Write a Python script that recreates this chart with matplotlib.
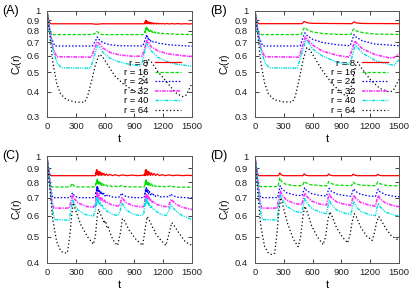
import matplotlib
matplotlib.use("Agg")
import matplotlib.pyplot as plt
from matplotlib.ticker import FixedLocator, FixedFormatter, NullLocator

plt.rcParams["font.family"] = ["Liberation Sans", "DejaVu Sans"]
plt.rcParams["lines.scale_dashes"] = False
plt.rcParams["mathtext.fontset"] = "custom"
plt.rcParams["mathtext.rm"] = "Liberation Sans"
plt.rcParams["mathtext.it"] = "Liberation Sans:italic"

# ── data (t, C_t(r)) ───────────────────────────────────────────────────────

RADII = [8, 16, 24, 32, 40, 64]
X_TICKS = [0, 300, 600, 900, 1200, 1500]

A8 = [(0, 1.0), (10, 0.93), (25, 0.88), (40, 0.865), (470, 0.865), (490, 0.861), (530, 0.861),
      (560, 0.865), (1005, 0.865), (1010, 0.875), (1014, 0.864), (1018, 0.895), (1022, 0.868),
      (1026, 0.9), (1030, 0.87), (1034, 0.89), (1038, 0.866), (1043, 0.885), (1048, 0.867),
      (1053, 0.881), (1058, 0.864), (1064, 0.878), (1070, 0.865), (1076, 0.876), (1083, 0.863),
      (1090, 0.874), (1098, 0.864), (1106, 0.872), (1115, 0.863), (1125, 0.871), (1135, 0.863),
      (1146, 0.87), (1158, 0.863), (1170, 0.869), (1185, 0.863), (1200, 0.868), (1220, 0.863),
      (1240, 0.868), (1265, 0.863), (1290, 0.867), (1320, 0.863), (1350, 0.867), (1390, 0.863),
      (1430, 0.866), (1470, 0.863), (1500, 0.865)]
A16 = [(0, 1.0), (15, 0.9), (30, 0.8), (50, 0.765), (470, 0.765), (500, 0.778), (515, 0.792),
       (528, 0.786), (545, 0.768), (580, 0.765), (995, 0.765), (1005, 0.775), (1012, 0.795),
       (1016, 0.785), (1020, 0.818), (1024, 0.802), (1028, 0.832), (1032, 0.807), (1036, 0.824),
       (1040, 0.802), (1045, 0.816), (1050, 0.797), (1055, 0.81), (1061, 0.792), (1067, 0.804),
       (1074, 0.787), (1081, 0.798), (1089, 0.784), (1097, 0.793), (1106, 0.78), (1116, 0.789),
       (1127, 0.777), (1139, 0.785), (1152, 0.774), (1166, 0.781), (1182, 0.772), (1200, 0.777),
       (1220, 0.77), (1245, 0.775), (1270, 0.768), (1300, 0.772), (1340, 0.766), (1380, 0.769),
       (1430, 0.765), (1470, 0.767), (1500, 0.765)]
A24 = [(0, 1.0), (20, 0.86), (45, 0.74), (80, 0.672), (470, 0.672), (500, 0.71), (520, 0.745),
       (540, 0.722), (580, 0.697), (650, 0.682), (750, 0.674), (990, 0.672), (1010, 0.71),
       (1022, 0.74), (1028, 0.757), (1033, 0.737), (1038, 0.75), (1044, 0.728), (1050, 0.74),
       (1057, 0.72), (1065, 0.728), (1075, 0.71), (1086, 0.716), (1100, 0.702), (1120, 0.705),
       (1150, 0.693), (1200, 0.689), (1250, 0.682), (1350, 0.677), (1500, 0.67)]
A32 = [(0, 1.0), (25, 0.82), (60, 0.66), (100, 0.595), (460, 0.592), (490, 0.65), (520, 0.705),
       (540, 0.69), (580, 0.655), (650, 0.625), (750, 0.607), (900, 0.597), (985, 0.6),
       (1010, 0.65), (1030, 0.715), (1040, 0.7), (1048, 0.705), (1060, 0.685), (1080, 0.665),
       (1150, 0.635), (1250, 0.615), (1400, 0.602), (1500, 0.597)]
A40 = [(0, 1.0), (30, 0.78), (70, 0.62), (110, 0.55), (150, 0.525), (450, 0.522), (480, 0.58),
       (520, 0.675), (540, 0.665), (580, 0.625), (650, 0.585), (750, 0.56), (850, 0.546),
       (960, 0.536), (985, 0.56), (1030, 0.69), (1045, 0.675), (1080, 0.635), (1150, 0.59),
       (1250, 0.56), (1350, 0.545), (1500, 0.535)]
A64 = [(0, 1.0), (30, 0.75), (60, 0.56), (100, 0.44), (140, 0.39), (200, 0.366), (300, 0.355),
       (390, 0.355), (420, 0.38), (460, 0.45), (500, 0.54), (540, 0.61), (570, 0.6), (620, 0.55),
       (700, 0.48), (780, 0.44), (860, 0.415), (930, 0.395), (960, 0.395), (990, 0.44),
       (1020, 0.53), (1050, 0.575), (1080, 0.56), (1150, 0.5), (1250, 0.44), (1330, 0.395),
       (1400, 0.378), (1440, 0.385), (1500, 0.44)]

B8 = [(0, 1.0), (10, 0.93), (25, 0.88), (40, 0.866), (490, 0.866), (505, 0.882), (515, 0.888),
      (540, 0.875), (600, 0.869), (1010, 0.866), (1025, 0.88), (1035, 0.884), (1060, 0.872),
      (1120, 0.868), (1500, 0.866)]
B16 = [(0, 1.0), (15, 0.9), (30, 0.8), (50, 0.765), (480, 0.765), (500, 0.805), (515, 0.83),
       (540, 0.81), (600, 0.788), (700, 0.775), (850, 0.767), (1000, 0.766), (1015, 0.8),
       (1030, 0.815), (1055, 0.798), (1120, 0.782), (1250, 0.77), (1500, 0.766)]
B24 = [(0, 1.0), (20, 0.86), (45, 0.74), (80, 0.672), (470, 0.672), (495, 0.73), (520, 0.78),
       (545, 0.755), (600, 0.725), (700, 0.7), (850, 0.682), (990, 0.674), (1005, 0.7),
       (1030, 0.765), (1055, 0.743), (1120, 0.712), (1250, 0.687), (1500, 0.674)]
B32 = [(0, 1.0), (25, 0.82), (60, 0.66), (100, 0.595), (460, 0.592), (490, 0.66), (525, 0.745),
       (550, 0.72), (600, 0.68), (700, 0.635), (850, 0.605), (980, 0.592), (1000, 0.62),
       (1040, 0.712), (1065, 0.69), (1120, 0.65), (1250, 0.61), (1400, 0.587), (1450, 0.59),
       (1500, 0.615)]
B40 = [(0, 1.0), (30, 0.78), (70, 0.62), (110, 0.55), (150, 0.525), (440, 0.522), (480, 0.6),
       (530, 0.72), (555, 0.7), (600, 0.65), (700, 0.6), (850, 0.56), (980, 0.545), (1000, 0.57),
       (1045, 0.68), (1070, 0.66), (1120, 0.62), (1250, 0.57), (1400, 0.545), (1450, 0.54),
       (1500, 0.575)]
B64 = [(0, 1.0), (30, 0.75), (60, 0.56), (100, 0.44), (140, 0.39), (200, 0.365), (300, 0.356),
       (390, 0.356), (420, 0.38), (460, 0.46), (500, 0.57), (540, 0.66), (570, 0.645),
       (620, 0.59), (700, 0.51), (800, 0.44), (900, 0.395), (950, 0.38), (980, 0.385),
       (1010, 0.44), (1050, 0.54), (1070, 0.56), (1100, 0.53), (1200, 0.46), (1300, 0.415),
       (1400, 0.398), (1440, 0.405), (1500, 0.46)]

C8 = [(0, 1.0), (10, 0.92), (25, 0.86), (40, 0.845), (500, 0.845),
      (505, 0.87), (509, 0.85), (513, 0.89), (517, 0.855), (521, 0.885), (525, 0.85), (530, 0.878),
      (535, 0.848), (541, 0.875), (547, 0.85), (554, 0.87), (561, 0.846), (569, 0.866), (578, 0.848),
      (588, 0.862), (600, 0.846), (614, 0.858), (630, 0.845), (650, 0.855), (675, 0.845),
      (705, 0.852), (740, 0.844), (780, 0.85), (830, 0.845), (880, 0.849), (940, 0.845),
      (1000, 0.848), (1010, 0.86), (1014, 0.845), (1018, 0.885), (1022, 0.852), (1026, 0.89),
      (1030, 0.85), (1035, 0.88), (1041, 0.848), (1047, 0.875), (1054, 0.85), (1062, 0.87),
      (1071, 0.847), (1081, 0.866), (1093, 0.848), (1107, 0.861), (1123, 0.846), (1142, 0.857),
      (1165, 0.845), (1190, 0.853), (1220, 0.845), (1260, 0.851), (1300, 0.845), (1350, 0.849),
      (1400, 0.845), (1450, 0.848), (1500, 0.846)]
C16 = [(0, 1.0), (15, 0.9), (30, 0.8), (50, 0.767), (240, 0.767), (255, 0.785), (262, 0.792),
       (275, 0.775), (300, 0.768), (500, 0.767),
       (505, 0.79), (509, 0.78), (513, 0.815), (517, 0.79), (521, 0.82), (525, 0.79), (530, 0.81),
       (535, 0.782), (541, 0.802), (547, 0.78), (554, 0.796), (561, 0.777), (569, 0.79),
       (578, 0.774), (588, 0.785), (600, 0.772), (614, 0.78), (630, 0.77), (650, 0.776),
       (675, 0.768), (705, 0.772), (740, 0.767), (765, 0.775), (775, 0.778), (790, 0.77),
       (830, 0.768), (1005, 0.767),
       (1010, 0.78), (1014, 0.775), (1018, 0.81), (1022, 0.785), (1026, 0.815), (1030, 0.787),
       (1035, 0.805), (1041, 0.78), (1047, 0.798), (1054, 0.778), (1062, 0.792), (1071, 0.775),
       (1081, 0.787), (1093, 0.772), (1107, 0.782), (1123, 0.77), (1142, 0.778), (1165, 0.768),
       (1190, 0.773), (1220, 0.767), (1265, 0.772), (1280, 0.776), (1300, 0.769), (1350, 0.766),
       (1500, 0.765)]
C24 = [(0, 1.0), (20, 0.86), (40, 0.75), (60, 0.70), (240, 0.70), (255, 0.72), (265, 0.73),
       (285, 0.71), (330, 0.70), (500, 0.70),
       (505, 0.73), (509, 0.72), (513, 0.765), (517, 0.735), (521, 0.77), (525, 0.74), (530, 0.76),
       (535, 0.732), (541, 0.752), (547, 0.725), (554, 0.742), (561, 0.72), (569, 0.735),
       (578, 0.715), (588, 0.727), (600, 0.71), (614, 0.72), (630, 0.706), (650, 0.712),
       (680, 0.703), (720, 0.702), (755, 0.705), (770, 0.728), (785, 0.718), (820, 0.706),
       (900, 0.70), (1005, 0.70),
       (1010, 0.725), (1014, 0.715), (1018, 0.755), (1022, 0.73), (1026, 0.762), (1030, 0.735),
       (1035, 0.752), (1041, 0.728), (1047, 0.745), (1054, 0.722), (1062, 0.737), (1071, 0.717),
       (1081, 0.73), (1093, 0.712), (1107, 0.722), (1123, 0.707), (1142, 0.715), (1165, 0.704),
       (1200, 0.706), (1265, 0.705), (1280, 0.723), (1300, 0.712), (1350, 0.703), (1500, 0.698)]
C32 = [(0, 1.0), (25, 0.82), (50, 0.68), (70, 0.64), (230, 0.64), (250, 0.68), (265, 0.715),
       (280, 0.695), (320, 0.67), (400, 0.65), (480, 0.645), (500, 0.66),
       (505, 0.68), (510, 0.7), (514, 0.69), (518, 0.73), (522, 0.705), (527, 0.725), (532, 0.7),
       (538, 0.715), (545, 0.692), (552, 0.705), (560, 0.685), (570, 0.695), (582, 0.677),
       (595, 0.685), (610, 0.668), (630, 0.672), (660, 0.66), (700, 0.655), (745, 0.65),
       (760, 0.67), (775, 0.70), (790, 0.69), (820, 0.67), (880, 0.655), (950, 0.648),
       (1000, 0.648),
       (1010, 0.67), (1015, 0.69), (1019, 0.68), (1023, 0.72), (1027, 0.7), (1032, 0.718),
       (1037, 0.695), (1043, 0.71), (1050, 0.69), (1058, 0.7), (1066, 0.68), (1076, 0.688),
       (1090, 0.672), (1105, 0.676), (1125, 0.662), (1150, 0.658), (1200, 0.65), (1255, 0.648),
       (1270, 0.67), (1285, 0.69), (1300, 0.68), (1340, 0.66), (1400, 0.645), (1500, 0.632)]
C40 = [(0, 1.0), (30, 0.78), (60, 0.62), (80, 0.58), (230, 0.577), (250, 0.64), (265, 0.69),
       (280, 0.665), (320, 0.63), (400, 0.605), (480, 0.598), (500, 0.63),
       (506, 0.67), (511, 0.65), (515, 0.705), (519, 0.68), (524, 0.7), (529, 0.672), (535, 0.69),
       (542, 0.662), (550, 0.675), (558, 0.65), (568, 0.658), (580, 0.638), (595, 0.642),
       (615, 0.625), (640, 0.618), (680, 0.607), (730, 0.6), (755, 0.62), (775, 0.67),
       (790, 0.655), (820, 0.63), (880, 0.61), (960, 0.6), (1000, 0.605),
       (1008, 0.64), (1013, 0.665), (1017, 0.65), (1022, 0.695), (1027, 0.67), (1032, 0.69),
       (1038, 0.665), (1045, 0.68), (1052, 0.655), (1060, 0.665), (1070, 0.642), (1082, 0.65),
       (1097, 0.632), (1115, 0.632), (1140, 0.618), (1180, 0.608), (1230, 0.6), (1255, 0.62),
       (1280, 0.66), (1295, 0.648), (1330, 0.625), (1400, 0.6), (1500, 0.58)]
C64 = [(0, 1.0), (30, 0.75), (60, 0.58), (100, 0.48), (140, 0.445), (170, 0.436), (210, 0.436),
       (235, 0.5), (255, 0.6), (272, 0.67), (295, 0.63), (350, 0.555), (420, 0.5), (480, 0.47),
       (500, 0.5), (520, 0.6), (535, 0.635), (555, 0.605), (575, 0.585), (585, 0.57),
       (592, 0.578), (600, 0.56), (610, 0.565), (620, 0.545), (630, 0.55), (645, 0.528),
       (660, 0.51), (680, 0.49), (705, 0.475), (730, 0.465), (760, 0.52), (780, 0.585),
       (800, 0.575), (850, 0.53), (920, 0.49), (990, 0.465), (1010, 0.52), (1035, 0.595),
       (1055, 0.58), (1080, 0.555), (1090, 0.545), (1100, 0.535), (1112, 0.528), (1130, 0.51),
       (1170, 0.49), (1230, 0.465), (1260, 0.51), (1290, 0.565), (1310, 0.555), (1360, 0.52),
       (1430, 0.48), (1500, 0.465)]

D8 = [(0, 1.0), (10, 0.92), (25, 0.86), (40, 0.845), (245, 0.845), (258, 0.865), (275, 0.85),
      (300, 0.845), (500, 0.845), (512, 0.858), (530, 0.848), (555, 0.845), (755, 0.845),
      (767, 0.857), (785, 0.848), (810, 0.845), (1010, 0.845), (1022, 0.856), (1040, 0.848),
      (1065, 0.845), (1265, 0.845), (1277, 0.855), (1295, 0.848), (1320, 0.845), (1500, 0.845)]
D16 = [(0, 1.0), (15, 0.9), (30, 0.8), (50, 0.77), (240, 0.77), (258, 0.83), (275, 0.805),
       (320, 0.785), (400, 0.776), (495, 0.775), (512, 0.805), (530, 0.795), (580, 0.782),
       (700, 0.775), (750, 0.775), (767, 0.803), (785, 0.792), (840, 0.78), (1005, 0.775),
       (1022, 0.8), (1040, 0.79), (1100, 0.779), (1260, 0.775), (1277, 0.8), (1295, 0.79),
       (1360, 0.778), (1500, 0.773)]
D24 = [(0, 1.0), (20, 0.86), (40, 0.75), (60, 0.70), (235, 0.70), (250, 0.74), (262, 0.775),
       (280, 0.755), (330, 0.73), (420, 0.715), (490, 0.712), (505, 0.74), (518, 0.762),
       (535, 0.745), (590, 0.725), (680, 0.713), (745, 0.71), (760, 0.738), (773, 0.758),
       (790, 0.742), (850, 0.722), (940, 0.712), (1000, 0.708), (1015, 0.735), (1028, 0.755),
       (1045, 0.74), (1100, 0.72), (1190, 0.71), (1255, 0.707), (1270, 0.732), (1283, 0.752),
       (1300, 0.737), (1360, 0.718), (1450, 0.708), (1500, 0.705)]
D32 = [(0, 1.0), (25, 0.82), (50, 0.68), (70, 0.64), (230, 0.64), (248, 0.7), (265, 0.74),
       (282, 0.715), (330, 0.685), (420, 0.665), (490, 0.66), (505, 0.7), (520, 0.728),
       (538, 0.708), (590, 0.68), (680, 0.662), (745, 0.658), (760, 0.695), (775, 0.722),
       (793, 0.702), (850, 0.675), (940, 0.66), (1000, 0.656), (1015, 0.69), (1030, 0.715),
       (1048, 0.697), (1100, 0.672), (1190, 0.656), (1255, 0.652), (1270, 0.688), (1285, 0.712),
       (1303, 0.694), (1360, 0.668), (1450, 0.652), (1500, 0.648)]
D40 = [(0, 1.0), (30, 0.78), (60, 0.62), (80, 0.58), (230, 0.578), (248, 0.66), (265, 0.72),
       (282, 0.69), (330, 0.65), (420, 0.622), (490, 0.615), (505, 0.66), (520, 0.695),
       (538, 0.672), (590, 0.638), (680, 0.618), (745, 0.61), (760, 0.65), (775, 0.685),
       (793, 0.662), (850, 0.63), (940, 0.612), (1000, 0.606), (1015, 0.645), (1030, 0.675),
       (1048, 0.653), (1100, 0.623), (1190, 0.605), (1255, 0.6), (1270, 0.64), (1285, 0.668),
       (1303, 0.647), (1360, 0.618), (1450, 0.603), (1500, 0.598)]
D64 = [(0, 1.0), (30, 0.72), (60, 0.55), (100, 0.46), (140, 0.435), (175, 0.43), (205, 0.435),
       (230, 0.52), (250, 0.63), (268, 0.70), (290, 0.655), (340, 0.56), (400, 0.49), (450, 0.46),
       (475, 0.5), (500, 0.6), (520, 0.65), (540, 0.625), (590, 0.55), (650, 0.5), (710, 0.468),
       (735, 0.5), (760, 0.58), (780, 0.62), (800, 0.6), (850, 0.54), (910, 0.5), (965, 0.475),
       (990, 0.51), (1012, 0.57), (1035, 0.61), (1055, 0.595), (1100, 0.545), (1160, 0.505),
       (1220, 0.485), (1245, 0.52), (1268, 0.57), (1290, 0.595), (1310, 0.58), (1360, 0.54),
       (1420, 0.505), (1500, 0.485)]

# ── styles (gnuplot-like) ──────────────────────────────────────────────────

STYLES = {
    8:  dict(color="#ff0000", lw=0.9, dashes=()),
    16: dict(color="#00dd00", lw=0.9, dashes=(2.4, 1.2)),
    24: dict(color="#0000ff", lw=0.9, dashes=(1.1, 1.3)),
    32: dict(color="#ff33ff", lw=1.2, dashes=(2.6, 0.8, 0.9, 0.8)),
    40: dict(color="#00e0e0", lw=1.0, dashes=(2.6, 0.8, 0.8, 0.8, 0.8, 0.8)),
    64: dict(color="#000000", lw=0.9, dashes=(0.9, 1.7)),
}

FS = 6.8

fig = plt.figure(figsize=(4.15, 2.91), dpi=100)

# left/bottom/width/height in figure fraction, read from the pixel layout
AX_POS = {
    "A": [47 / 415, 1 - 117 / 291, 145 / 415, 106 / 291],
    "B": [255 / 415, 1 - 117 / 291, 144 / 415, 106 / 291],
    "C": [47 / 415, 1 - 263 / 291, 145 / 415, 107 / 291],
    "D": [255 / 415, 1 - 263 / 291, 144 / 415, 107 / 291],
}
PANELS = {
    "A": ([A8, A16, A24, A32, A40, A64], 0.3, True),
    "B": ([B8, B16, B24, B32, B40, B64], 0.3, True),
    "C": ([C8, C16, C24, C32, C40, C64], 0.4, False),
    "D": ([D8, D16, D24, D32, D40, D64], 0.4, False),
}
Y_TICKS = {0.3: [0.3, 0.4, 0.5, 0.6, 0.7, 0.8, 0.9, 1.0],
           0.4: [0.4, 0.5, 0.6, 0.7, 0.8, 0.9, 1.0]}

for name, (series, ylo, with_legend) in PANELS.items():
    ax = fig.add_axes(AX_POS[name])
    for r, pts in zip(RADII, series):
        t, c = zip(*pts)
        st = STYLES[r]
        line, = ax.plot(t, c, color=st["color"], lw=st["lw"], label=f"r = {r}")
        if st["dashes"]:
            line.set_dashes(st["dashes"])

    ax.set_yscale("log")
    ax.set_xlim(0, 1500)
    ax.set_ylim(ylo, 1.0)
    ticks = Y_TICKS[ylo]
    ax.yaxis.set_major_locator(FixedLocator(ticks))
    ax.yaxis.set_major_formatter(FixedFormatter([f"{v:g}" for v in ticks]))
    ax.yaxis.set_minor_locator(NullLocator())
    ax.set_xticks(X_TICKS)

    ax.tick_params(direction="in", length=3, width=0.6, top=True, right=True,
                   labelsize=FS, colors="#222222")
    ax.tick_params(axis="y", pad=5)
    ax.tick_params(axis="x", pad=3.5)
    for sp in ax.spines.values():
        sp.set_color("#555555")
        sp.set_linewidth(0.7)

    ax.set_xlabel("t", fontsize=8, labelpad=2)
    ax.set_ylabel(r"C$_t$(r)", fontsize=7.5, labelpad=2)
    ax.text(-0.31, 1.0, f"({name})", transform=ax.transAxes, fontsize=9,
            ha="left", va="center")

    if with_legend:
        ax.legend(loc="lower right", bbox_to_anchor=(0.925, 0.02), frameon=False,
                  markerfirst=False, fontsize=FS, handlelength=2.8,
                  handletextpad=0.7, labelspacing=0.05, borderpad=0,
                  borderaxespad=0)

fig.savefig("out.png", dpi=100)
